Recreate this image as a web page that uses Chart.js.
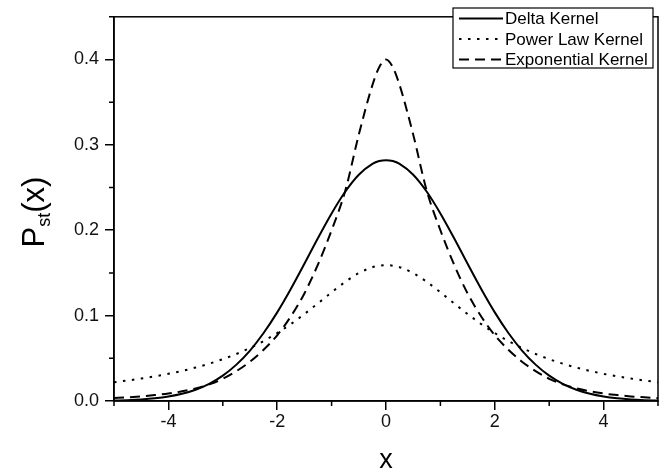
<!DOCTYPE html>
<html>
<head>
<meta charset="utf-8">
<script src="https://cdn.jsdelivr.net/npm/chart.js@4"></script>
<style>
  html, body { margin: 0; padding: 0; background: #fff; }
  #wrap { width: 667px; height: 476px; }
</style>
</head>
<body>
<div id="wrap"><canvas id="chart" width="667" height="476"></canvas></div>
<script>
// values
const xs = [-5, -4.75, -4.5, -4.25, -4, -3.75, -3.5, -3.25, -3, -2.75, -2.5, -2.25, -2, -1.75, -1.5, -1.25, -1, -0.75, -0.5, -0.25, -0.125,
            0, 0.125, 0.25, 0.5, 0.75, 1, 1.25, 1.5, 1.75, 2, 2.25, 2.5, 2.75, 3, 3.25, 3.5, 3.75, 4, 4.25, 4.5, 4.75, 5];

const deltaKernel = [0.0005, 0.0010, 0.0018, 0.0031, 0.0052, 0.0084, 0.0132, 0.0201, 0.0297, 0.0426, 0.0591, 0.0796, 0.1038, 0.1312, 0.1607, 0.1909, 0.2197, 0.2451, 0.2650, 0.2777, 0.2810,
                     0.2821, 0.2810, 0.2777, 0.2650, 0.2451, 0.2197, 0.1909, 0.1607, 0.1312, 0.1038, 0.0796, 0.0591, 0.0426, 0.0297, 0.0201, 0.0132, 0.0084, 0.0052, 0.0031, 0.0018, 0.0010, 0.0005];

const powerLawKernel = [0.0220, 0.0240, 0.0263, 0.0289, 0.0318, 0.0352, 0.0392, 0.0437, 0.0490, 0.0551, 0.0621, 0.0702, 0.0796, 0.0901, 0.1019, 0.1144, 0.1273, 0.1395, 0.1498, 0.1567, 0.1585,
                        0.1592, 0.1585, 0.1567, 0.1498, 0.1395, 0.1273, 0.1144, 0.1019, 0.0901, 0.0796, 0.0702, 0.0621, 0.0551, 0.0490, 0.0437, 0.0392, 0.0352, 0.0318, 0.0289, 0.0263, 0.0240, 0.0220];

const expKernel = [0.0034, 0.0043, 0.0054, 0.0069, 0.0088, 0.0113, 0.0148, 0.0195, 0.026, 0.035, 0.046, 0.060, 0.077, 0.099, 0.126, 0.160, 0.200, 0.246, 0.312, 0.370, 0.391,
                   0.400, 0.391, 0.370, 0.312, 0.246, 0.200, 0.160, 0.126, 0.099, 0.077, 0.060, 0.046, 0.035, 0.026, 0.0195, 0.0148, 0.0113, 0.0088, 0.0069, 0.0054, 0.0043, 0.0034];

const legendLabels = ['Delta Kernel', 'Power Law Kernel', 'Exponential Kernel'];
const xMajorTicks = [-4, -2, 0, 2, 4];
const xMinorTicks = [-5, -3, -1, 1, 3, 5];
const yMajorTicks = [0, 0.1, 0.2, 0.3, 0.4];
const yMinorTicks = [0.05, 0.15, 0.25, 0.35, 0.45];

const FONT = '"Liberation Sans", Arial, Helvetica, sans-serif';

function toPoints(ys) {
    return xs.map((x, i) => ({ x: x, y: ys[i] }));
}

// frame, minor ticks, axis titles and legend box
const decorations = {
    id: 'decorations',
    afterDraw(chart) {
        const ctx = chart.ctx;
        const a = chart.chartArea;
        const sx = chart.scales.x, sy = chart.scales.y;
        ctx.save();
        ctx.strokeStyle = '#000';
        ctx.lineWidth = 1.5;
        ctx.strokeRect(a.left, a.top, a.right - a.left, a.bottom - a.top);

        // minor ticks
        ctx.beginPath();
        xMinorTicks.forEach(v => {
            const px = sx.getPixelForValue(v);
            ctx.moveTo(px, a.bottom);
            ctx.lineTo(px, a.bottom + 5);
        });
        yMinorTicks.forEach(v => {
            const py = sy.getPixelForValue(v);
            ctx.moveTo(a.left, py);
            ctx.lineTo(a.left - 5, py);
        });
        ctx.stroke();

        // axis titles
        ctx.fillStyle = '#000';
        ctx.font = '27px ' + FONT;
        ctx.textAlign = 'center';
        ctx.textBaseline = 'middle';
        ctx.fillText('x', (a.left + a.right) / 2, 461);

        ctx.save();
        ctx.translate(33, 212);
        ctx.rotate(-Math.PI / 2);
        ctx.textBaseline = 'alphabetic';
        ctx.textAlign = 'left';
        ctx.font = '31px ' + FONT;
        const wP = ctx.measureText('P').width;
        ctx.font = '18px ' + FONT;
        const wSub = ctx.measureText('st').width;
        ctx.font = '31px ' + FONT;
        const wRest = ctx.measureText('(x)').width;
        let cx = -(wP + wSub + wRest) / 2;
        const base = 11;
        ctx.fillText('P', cx, base);
        cx += wP;
        ctx.font = '18px ' + FONT;
        ctx.fillText('st', cx, base + 6);
        cx += wSub;
        ctx.font = '31px ' + FONT;
        ctx.fillText('(x)', cx, base);
        ctx.restore();

        // legend
        const box = { left: 453, top: 8, right: 653, bottom: 68 };
        ctx.fillStyle = '#fff';
        ctx.fillRect(box.left, box.top, box.right - box.left, box.bottom - box.top);
        ctx.lineWidth = 1.2;
        ctx.strokeRect(box.left, box.top, box.right - box.left, box.bottom - box.top);
        ctx.font = '17px ' + FONT;
        ctx.textAlign = 'left';
        ctx.textBaseline = 'middle';
        chart.data.datasets.forEach((ds, i) => {
            const y = 18.5 + i * 20.5;
            ctx.beginPath();
            ctx.setLineDash(ds.borderDash || []);
            ctx.lineWidth = ds.borderWidth;
            ctx.moveTo(459, y);
            ctx.lineTo(503, y);
            ctx.stroke();
            ctx.setLineDash([]);
            ctx.fillStyle = '#000';
            ctx.fillText(ds.label, 505, y + 1);
        });
        ctx.restore();
    }
};

new Chart(document.getElementById('chart'), {
    type: 'line',
    data: {
        datasets: [
            { label: legendLabels[0], data: toPoints(deltaKernel), borderColor: '#000', borderWidth: 2, borderDash: [] },
            { label: legendLabels[1], data: toPoints(powerLawKernel), borderColor: '#000', borderWidth: 2, borderDash: [2.5, 6.5] },
            { label: legendLabels[2], data: toPoints(expKernel), borderColor: '#000', borderWidth: 2, borderDash: [10, 6] }
        ]
    },
    options: {
        responsive: false,
        animation: false,
        layout: { padding: { left: 0, top: 6, right: 9, bottom: 0 } },
        elements: {
            point: { radius: 0 },
            line: { cubicInterpolationMode: 'monotone', fill: false }
        },
        plugins: {
            legend: { display: false },
            tooltip: { enabled: false }
        },
        scales: {
            x: {
                type: 'linear',
                min: -5,
                max: 5,
                afterFit: s => { s.height = 75; },
                afterBuildTicks: s => { s.ticks = xMajorTicks.map(v => ({ value: v })); },
                grid: { drawOnChartArea: false, drawTicks: true, tickLength: 9, color: '#000', lineWidth: 1.5 },
                border: { display: true, color: '#000', width: 1.5 },
                ticks: { color: '#111', font: { family: FONT, size: 18 }, padding: 1, callback: v => String(v) }
            },
            y: {
                type: 'linear',
                min: 0,
                max: 0.45,
                afterFit: s => { s.width = 114; },
                afterBuildTicks: s => { s.ticks = yMajorTicks.map(v => ({ value: v })); },
                grid: { drawOnChartArea: false, drawTicks: true, tickLength: 9, color: '#000', lineWidth: 1.5 },
                border: { display: true, color: '#000', width: 1.5 },
                ticks: { color: '#111', font: { family: FONT, size: 18 }, padding: 6, callback: v => v.toFixed(1) }
            }
        }
    },
    plugins: [decorations]
});
</script>
</body>
</html>
